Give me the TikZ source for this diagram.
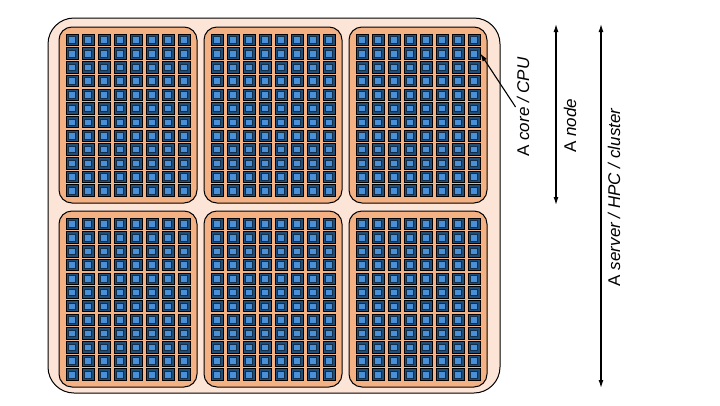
\documentclass[tikz,border=0pt]{standalone}
\usepackage{fontspec}
\setmainfont{Liberation Sans}
\usetikzlibrary{arrows.meta}
\definecolor{srvfill}{HTML}{FCE4D6}
\definecolor{nodefill}{HTML}{F4B183}
\definecolor{coredark}{HTML}{1F4E79}
\definecolor{corelight}{HTML}{4A90D9}

\begin{document}
\begin{tikzpicture}[x=1pt, y=-1pt,
    srv/.style={draw=black, line width=1pt, fill=srvfill, rounded corners=26pt,
                minimum width=452pt, minimum height=375pt, inner sep=0pt},
    cnode/.style={draw=black, line width=1pt, fill=nodefill, rounded corners=13pt,
                minimum width=138pt, minimum height=176pt, inner sep=0pt},
    core/.style={draw=black, line width=0.6pt, fill=coredark,
                minimum width=12pt, minimum height=11.5pt, inner sep=0pt},
    corein/.style={draw=coredark!60!black, line width=0.4pt, fill=corelight,
                minimum width=7pt, minimum height=6.5pt, inner sep=0pt},
    dim/.style={{Latex[length=8pt,width=5pt]}-{Latex[length=8pt,width=5pt]}, line width=1.2pt},
    arr/.style={-{Latex[length=8pt,width=5pt]}, line width=1.1pt},
    lbl/.style={rotate=90, font=\fontsize{17}{20}\selectfont, inner sep=1pt}]
  \useasboundingbox (0,0) rectangle (720,405);
  \node[srv] (server) at (274,205.5) {};
  % compute nodes, 3 x 2, each 8 x 12 cores
  \foreach \col/\cx in {1/128, 2/273, 3/418} {
    \foreach \row/\cy in {1/115, 2/299} {
      \node[cnode] (n\col\row) at (\cx,\cy) {};
      \foreach \i in {1,...,8} {
        \foreach \j in {1,...,12} {
          \node[core] (c\col\row-\i-\j) at ({\cx-56+(\i-1)*16},{\cy-75.25+(\j-1)*13.7}) {};
          \node[corein] (c\col\row-\i-\j-in) at (c\col\row-\i-\j) {};
        }
      }
    }
  }
  % labels
  \node[lbl] (corelbl) at (523,107) {A \textit{core / CPU}};
  \node[lbl] (nodelbl) at (570,126) {A \textit{node}};
  \node[lbl] (srvlbl) at (614,197) {A \textit{server / HPC / cluster}};
  % arrows
  \coordinate (ntop) at (556,24);
  \coordinate (nbot) at (556,205);
  \coordinate (stop) at (601,24);
  \coordinate (sbot) at (601,388);
  \draw[arr] (corelbl.north) -- (c31-8-2.east);
  \draw[dim] (ntop) -- (nbot);
  \draw[dim] (stop) -- (sbot);
\end{tikzpicture}
\end{document}
